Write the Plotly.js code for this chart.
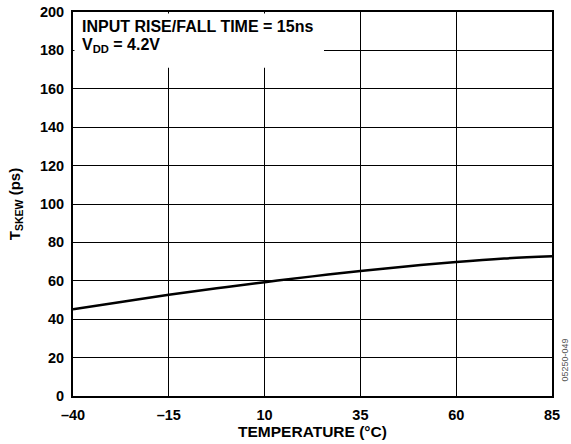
<!DOCTYPE html>
<html>
<head>
<meta charset="utf-8">
<script src="https://cdn.plot.ly/plotly-3.0.1.min.js"></script>
<style>html,body{margin:0;padding:0;background:#fff;}#chart{width:571px;height:444px;}</style>
</head>
<body>
<div id="chart"></div>
<script>
const temperature = [-40, -27.5, -15, -2.5, 10, 22.5, 35, 47.5, 60, 72.5, 85];
const tskew = [45.2, 49.0, 52.7, 56.1, 59.3, 62.3, 65.1, 67.6, 69.8, 71.6, 72.8];
const xTickVals = [-40, -15, 10, 35, 60, 85];
const xTickText = ['–40', '–15', '10', '35', '60', '85'];
const yTickVals = [0, 20, 40, 60, 80, 100, 120, 140, 160, 180, 200];

const font = 'Liberation Sans, Arial, Helvetica, sans-serif';

Plotly.newPlot('chart', [{
  x: temperature, y: tskew, type: 'scatter', mode: 'lines',
  line: {color: '#000', width: 2.5, shape: 'spline'},
  hoverinfo: 'skip'
}], {
  width: 571, height: 444,
  margin: {l: 73, r: 19, t: 12, b: 48},
  paper_bgcolor: '#fff', plot_bgcolor: '#fff',
  showlegend: false,
  font: {family: font, color: '#000', size: 14},
  xaxis: {
    range: [-40, 85], tickvals: xTickVals, ticktext: xTickText,
    showgrid: true, gridcolor: '#000', gridwidth: 1,
    showline: true, linecolor: '#000', linewidth: 2, mirror: true,
    zeroline: false, ticks: '', ticklabelstandoff: 5,
    tickfont: {family: font, size: 14.5, weight: 'bold'},
    title: {text: '<b>TEMPERATURE (°C)</b>', font: {family: font, size: 15.5}, standoff: 3}
  },
  yaxis: {
    range: [0, 200], tickvals: yTickVals,
    showgrid: true, gridcolor: '#000', gridwidth: 1,
    showline: true, linecolor: '#000', linewidth: 2, mirror: true,
    zeroline: false, ticks: '', ticklabelstandoff: 4,
    tickfont: {family: font, size: 14.5, weight: 'bold'},
    title: {text: '<b>T<sub>SKEW</sub> (ps)</b>', font: {family: font, size: 15}, standoff: 16}
  },
  shapes: [{
    type: 'rect', xref: 'paper', yref: 'paper',
    x0: 0.003, x1: 0.524, y0: 0.855, y1: 0.996,
    fillcolor: '#fff', line: {width: 0}, layer: 'above'
  }],
  annotations: [
    {xref: 'paper', yref: 'paper', x: 0.015, y: 0.99, xanchor: 'left', yanchor: 'top',
     text: '<b>INPUT RISE/FALL TIME = 15ns</b>', showarrow: false,
     font: {family: font, size: 16, color: '#000'}},
    {xref: 'paper', yref: 'paper', x: 0.015, y: 0.944, xanchor: 'left', yanchor: 'top',
     text: '<b>V<sub>DD</sub> = 4.2V</b>', showarrow: false,
     font: {family: font, size: 16, color: '#000'}},
    {xref: 'paper', yref: 'paper', x: 1.027, y: 0.095, xanchor: 'center', yanchor: 'middle',
     text: '05250-049', textangle: -90, showarrow: false,
     font: {family: font, size: 9, color: '#555'}}
  ]
}, {staticPlot: true});
</script>
</body>
</html>
